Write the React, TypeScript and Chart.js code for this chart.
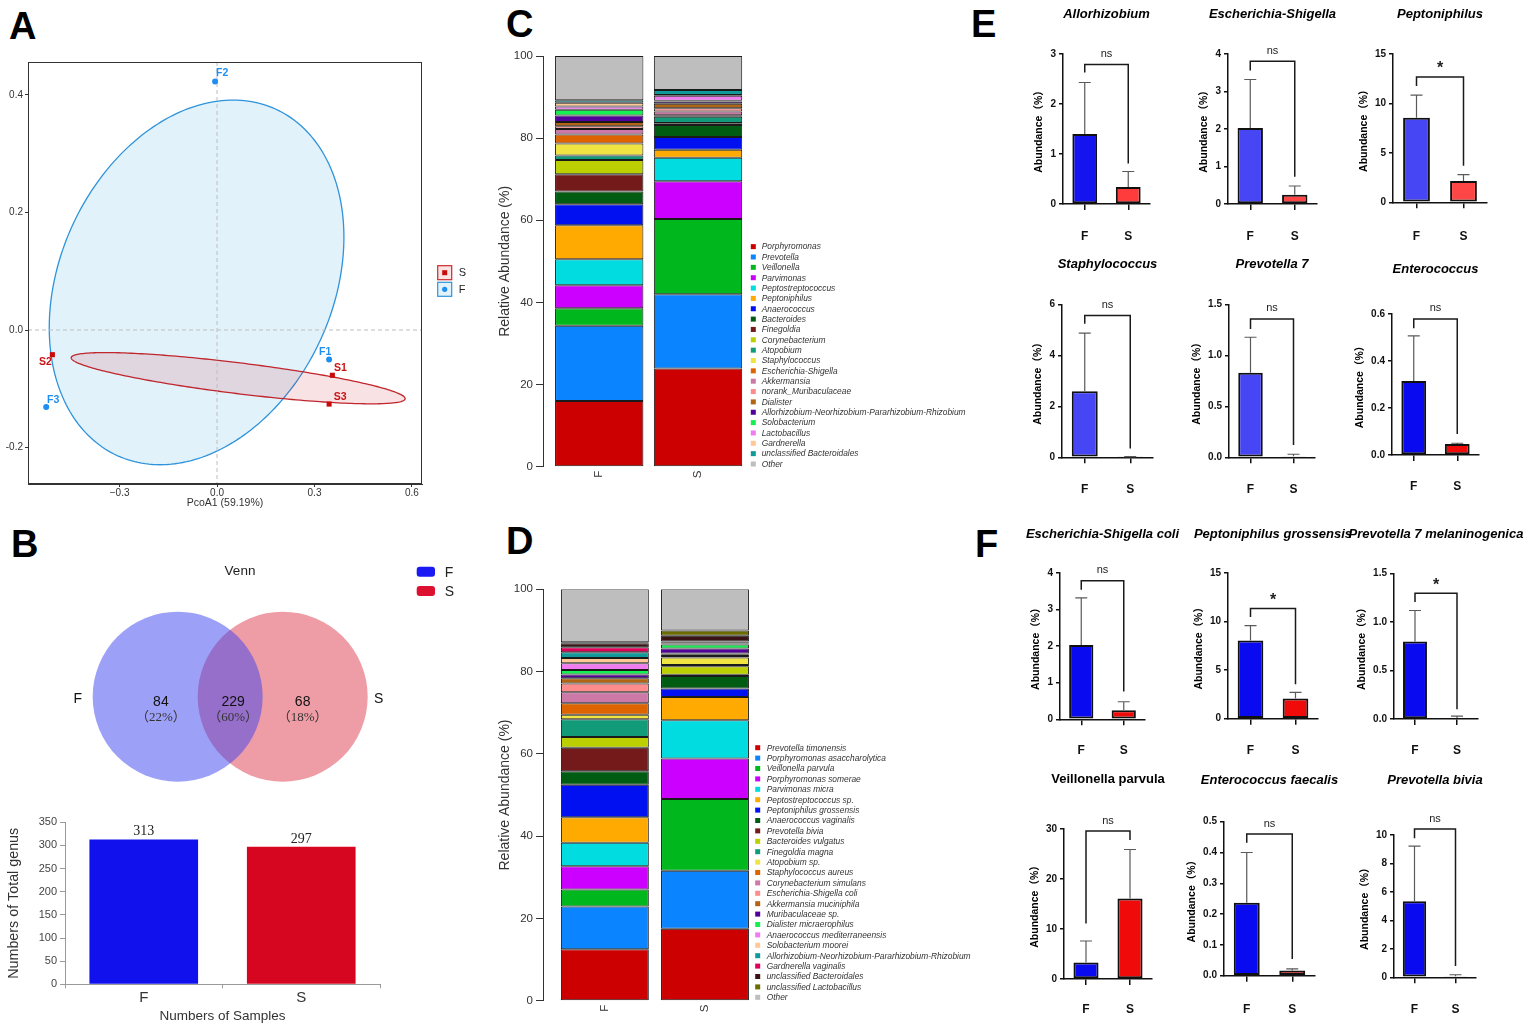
import React, { useEffect, useRef } from 'react';
import { Chart, registerables } from 'chart.js';

Chart.register(...registerables);

const SANS = "'Liberation Sans', Arial, 'Noto Sans CJK SC', sans-serif";
const SERIF = "'Liberation Serif', 'Times New Roman', 'Noto Sans CJK SC', serif";

// ================= Panel A : PCoA =================
const pcoaFNames = ['F1', 'F2', 'F3'];
const pcoaFX = [0.345, -0.006, -0.526];
const pcoaFY = [-0.05, 0.423, -0.131];
const pcoaSNames = ['S1', 'S2', 'S3'];
const pcoaSX = [0.355, -0.507, 0.345];
const pcoaSY = [-0.077, -0.042, -0.126];
const pcoaXTicks = [-0.3, 0, 0.3, 0.6];
const pcoaYTicks = [-0.2, 0, 0.2, 0.4];
const pcoaXRange = [-0.582, 0.631];
const pcoaYRange = [-0.262, 0.456];
// confidence ellipses: centre and two semi-axis vectors (data units)
const ellipseFCenter = [-0.063, 0.081];
const ellipseFAxisA = [0.243, 0.295];
const ellipseFAxisB = [0.383, -0.096];
const ellipseSCenter = [0.065, -0.082];
const ellipseSAxisA = [0.514, -0.035];
const ellipseSAxisB = [-0.006, -0.026];

// label placement (style)
const pcoaFLabelDx = [-4, 7, 7];
const pcoaFLabelDy = [-7, -8, -7];
const pcoaSLabelDx = [8, -7, 11];
const pcoaSLabelDy = [-7, 7, -7];

// ================= Panel B : Venn + totals =================
const vennSets = ['F', 'S'];
const vennOnly = [84, 68];
const vennShared = 229;
const totalGenus = [313, 297];

// ================= Panel C : genus composition =================
const groups = ['F', 'S'];
const genusNames = [
  'Porphyromonas', 'Prevotella', 'Veillonella', 'Parvimonas', 'Peptostreptococcus', 'Peptoniphilus',
  'Anaerococcus', 'Bacteroides', 'Finegoldia', 'Corynebacterium', 'Atopobium', 'Staphylococcus',
  'Escherichia-Shigella', 'Akkermansia', 'norank_Muribaculaceae', 'Dialister',
  'Allorhizobium-Neorhizobium-Pararhizobium-Rhizobium', 'Solobacterium', 'Lactobacillus', 'Gardnerella',
  'unclassified Bacteroidales', 'Other',
];
const genusF = [16.0, 18.3, 4.3, 5.6, 6.3, 8.3, 5.1, 3.1, 4.2, 3.5, 1.1, 2.9, 2.2, 1.3, 0.7, 1.05, 1.55, 1.4, 0.8, 0.9, 0.65, 10.75];
const genusS = [23.9, 18.1, 18.3, 9.2, 5.7, 2.0, 3.1, 2.9, 0.4, 0.1, 1.5, 0.2, 0.2, 0.9, 0.8, 1.1, 0.5, 0.2, 1.2, 0.2, 1.2, 8.3];
const genusColors = [
  '#CC0000', '#0A84FF', '#00B81E', '#CC00FF', '#00DCE0', '#FFAA00', '#0010F0', '#005C12', '#741A1A',
  '#BCCF00', '#129B78', '#F0E442', '#DD6400', '#CC79A7', '#FF8C8C', '#B06414', '#520099', '#14F050',
  '#F07CF0', '#FFC896', '#12999A', '#BEBEBE',
];

// ================= Panel D : species composition =================
const speciesNames = [
  'Prevotella timonensis', 'Porphyromonas asaccharolytica', 'Veillonella parvula', 'Porphyromonas somerae',
  'Parvimonas micra', 'Peptostreptococcus sp.', 'Peptoniphilus grossensis', 'Anaerococcus vaginalis',
  'Prevotella bivia', 'Bacteroides vulgatus', 'Finegoldia magna', 'Atopobium sp.', 'Staphylococcus aureus',
  'Corynebacterium simulans', 'Escherichia-Shigella coli', 'Akkermansia muciniphila', 'Muribaculaceae sp.',
  'Dialister micraerophilus', 'Anaerococcus mediterraneensis', 'Solobacterium moorei',
  'Allorhizobium-Neorhizobium-Pararhizobium-Rhizobium', 'Gardnerella vaginalis', 'unclassified Bacteroidales',
  'unclassified Lactobacillus', 'Other',
];
const speciesF = [12.5, 10.4, 4.1, 5.7, 5.7, 6.2, 7.9, 3.3, 5.7, 2.6, 4.3, 1.1, 2.8, 2.7, 2.1, 1.3, 0.9, 1.1, 1.6, 1.3, 1.4, 1.2, 1.0, 0.2, 12.9];
const speciesS = [17.5, 14.1, 17.4, 9.9, 9.3, 5.6, 2.1, 3.0, 0.3, 2.1, 0.3, 1.8, 0.4, 0.2, 0.1, 0.3, 1.2, 1.0, 0.2, 0.2, 0.2, 0.1, 1.4, 1.3, 10.0];
const speciesColors = [
  '#CC0000', '#0A84FF', '#00B81E', '#CC00FF', '#00DCE0', '#FFAA00', '#0010F0', '#005C12', '#741A1A',
  '#BCCF00', '#129B78', '#F0E442', '#DD6400', '#CC79A7', '#FF8C8C', '#B06414', '#520099', '#14F050',
  '#F07CF0', '#FFC896', '#12999A', '#E0005A', '#3A1414', '#6B6B00', '#BEBEBE',
];

// ================= Panels E / F : group comparisons =================
const miniTitles = [
  'Allorhizobium', 'Escherichia-Shigella', 'Peptoniphilus', 'Staphylococcus', 'Prevotella 7', 'Enterococcus',
  'Escherichia-Shigella coli', 'Peptoniphilus grossensis', 'Prevotella 7 melaninogenica', 'Veillonella parvula',
  'Enterococcus faecalis', 'Prevotella bivia',
];
const miniMeanF = [1.4, 2.03, 8.55, 2.6, 0.83, 0.315, 2.03, 8.05, 0.8, 3.3, 0.237, 5.35];
const miniMeanS = [0.34, 0.25, 2.15, 0.02, 0.01, 0.047, 0.25, 2.08, 0.01, 16.1, 0.017, 0.08];
const miniSdF = [1.03, 1.29, 2.3, 2.28, 0.35, 0.192, 1.29, 1.53, 0.32, 4.3, 0.163, 3.87];
const miniSdS = [0.31, 0.23, 0.65, 0.01, 0.02, 0.003, 0.23, 0.62, 0.02, 9.8, 0.005, 0.1];
const miniYMax = [3, 4, 15, 6, 1.5, 0.6, 4, 15, 1.5, 30, 0.5, 10];
const miniYStep = [1, 1, 5, 2, 0.5, 0.2, 1, 5, 0.5, 10, 0.1, 2];
const miniBracket = [2.79, 3.81, 12.67, 5.58, 1.36, 0.579, 3.79, 11.35, 1.297, 29.6, 0.46, 10.42];
const miniLegF = [2.63, 3.56, 11.76, 5.25, 1.26, 0.539, 3.54, 10.46, 1.207, 11.1, 0.432, 9.77];
const miniLegS = [0.81, 0.73, 3.7, 0.35, 0.12, 0.089, 0.76, 3.54, 0.1, 27.8, 0.054, 0.8];
const miniSig = ['ns', 'ns', '*', 'ns', 'ns', 'ns', 'ns', '*', '*', 'ns', 'ns', 'ns'];

// styles for mini charts
const miniItalic = [true, true, true, true, true, true, true, true, true, false, true, true];
const miniColorF = ['#1414F0', '#4646F5', '#4646F5', '#4646F5', '#4646F5', '#0A0AF0', '#0A0AF0', '#0A0AF0', '#0A0AF0', '#0A0AF0', '#0A0AF0', '#0A0AF0'];
const miniColorS = ['#FF3C3C', '#FF4646', '#FF4646', '#FF4646', '#FF4646', '#F00A0A', '#F00A0A', '#F00A0A', '#F00A0A', '#F00A0A', '#F00A0A', '#F00A0A'];
const miniLayout = [
  { axisX: 1062.7, right: 1150, top: 54, bottom: 204, titleY: 14, labelY: 237 },
  { axisX: 1227.7, right: 1316.7, top: 54, bottom: 204, titleY: 14, labelY: 237 },
  { axisX: 1393.3, right: 1487.7, top: 54, bottom: 202.3, titleY: 14, labelY: 237 },
  { axisX: 1061.7, right: 1152.3, top: 305, bottom: 457.3, titleY: 264.3, labelY: 490 },
  { axisX: 1229, right: 1315, top: 305, bottom: 457.3, titleY: 264.3, labelY: 490 },
  { axisX: 1391.7, right: 1479, top: 314, bottom: 455, titleY: 269, labelY: 487 },
  { axisX: 1060, right: 1145, top: 573.3, bottom: 719.3, titleY: 534.3, labelY: 751 },
  { axisX: 1227.7, right: 1317.7, top: 573.3, bottom: 718.7, titleY: 534.3, labelY: 751 },
  { axisX: 1394.3, right: 1478.3, top: 574, bottom: 719, titleY: 534.3, labelY: 751 },
  { axisX: 1064.3, right: 1152.7, top: 829, bottom: 979, titleY: 779, labelY: 1010 },
  { axisX: 1224.3, right: 1315, top: 821.7, bottom: 975.7, titleY: 780, labelY: 1010 },
  { axisX: 1394.3, right: 1476.7, top: 835, bottom: 977.3, titleY: 780, labelY: 1010 },
];

// ================= plugins =================
const pcoaPlugin = {
  id: 'pcoaDecor',
  beforeDatasetsDraw(chart: any) {
    const { ctx, chartArea: ca, scales } = chart;
    const xs = scales.x;
    const ys = scales.y;
    ctx.save();
    ctx.beginPath();
    ctx.rect(ca.left, ca.top, ca.right - ca.left, ca.bottom - ca.top);
    ctx.clip();
    const ell = (c: number[], a: number[], b: number[], fill: string, stroke: string) => {
      ctx.beginPath();
      for (let k = 0; k <= 240; k++) {
        const t = (k / 240) * Math.PI * 2;
        const px = xs.getPixelForValue(c[0] + Math.cos(t) * a[0] + Math.sin(t) * b[0]);
        const py = ys.getPixelForValue(c[1] + Math.cos(t) * a[1] + Math.sin(t) * b[1]);
        if (k === 0) ctx.moveTo(px, py);
        else ctx.lineTo(px, py);
      }
      ctx.closePath();
      ctx.fillStyle = fill;
      ctx.fill();
      ctx.strokeStyle = stroke;
      ctx.lineWidth = 1.3;
      ctx.stroke();
    };
    ell(ellipseFCenter, ellipseFAxisA, ellipseFAxisB, 'rgba(135,200,240,0.24)', '#2E93DB');
    ell(ellipseSCenter, ellipseSAxisA, ellipseSAxisB, 'rgba(205,30,45,0.13)', '#C0262C');
    ctx.setLineDash([4, 3]);
    ctx.lineWidth = 1;
    ctx.strokeStyle = '#BDBDBD';
    const x0 = xs.getPixelForValue(0);
    const y0 = ys.getPixelForValue(0);
    ctx.beginPath();
    ctx.moveTo(x0, ca.top);
    ctx.lineTo(x0, ca.bottom);
    ctx.moveTo(ca.left, y0);
    ctx.lineTo(ca.right, y0);
    ctx.stroke();
    ctx.restore();
  },
  afterDatasetsDraw(chart: any) {
    const { ctx } = chart;
    ctx.save();
    ctx.font = `bold 10.5px ${SANS}`;
    ctx.textAlign = 'center';
    ctx.textBaseline = 'middle';
    const sets = [
      { meta: chart.getDatasetMeta(0), names: pcoaFNames, dx: pcoaFLabelDx, dy: pcoaFLabelDy, color: '#1E8FF0' },
      { meta: chart.getDatasetMeta(1), names: pcoaSNames, dx: pcoaSLabelDx, dy: pcoaSLabelDy, color: '#C81414' },
    ];
    sets.forEach((s) => {
      ctx.fillStyle = s.color;
      s.meta.data.forEach((pt: any, i: number) => {
        ctx.fillText(s.names[i], pt.x + s.dx[i], pt.y + s.dy[i]);
      });
    });
    ctx.restore();
  },
  afterDraw(chart: any) {
    const { ctx, chartArea: ca } = chart;
    ctx.save();
    ctx.strokeStyle = '#333';
    ctx.lineWidth = 1;
    ctx.strokeRect(ca.left + 0.5, ca.top + 0.5, ca.right - ca.left - 1, ca.bottom - ca.top - 1);
    // legend
    const mid = (ca.top + ca.bottom) / 2;
    const bx = ca.right + 15.7;
    const rows = [
      { ds: chart.data.datasets[1], y: mid - 7.3, fill: '#FBE2E3', stroke: '#CC2A2A', square: true },
      { ds: chart.data.datasets[0], y: mid + 9.3, fill: '#E2F2FB', stroke: '#2E93DB', square: false },
    ];
    rows.forEach((r) => {
      ctx.fillStyle = r.fill;
      ctx.fillRect(bx, r.y, 14, 14);
      ctx.strokeStyle = r.stroke;
      ctx.lineWidth = 1.2;
      ctx.strokeRect(bx, r.y, 14, 14);
      ctx.fillStyle = r.ds.backgroundColor;
      if (r.square) ctx.fillRect(bx + 4.5, r.y + 4.5, 5, 5);
      else {
        ctx.beginPath();
        ctx.arc(bx + 7, r.y + 7, 2.6, 0, Math.PI * 2);
        ctx.fill();
      }
      ctx.fillStyle = '#222';
      ctx.font = `11px ${SANS}`;
      ctx.textAlign = 'left';
      ctx.textBaseline = 'middle';
      ctx.fillText(r.ds.label, bx + 21, r.y + 7.5);
    });
    ctx.restore();
  },
};

const vennPlugin = {
  id: 'vennDecor',
  afterDatasetsDraw(chart: any) {
    const { ctx } = chart;
    const p0 = chart.getDatasetMeta(0).data[0];
    const p1 = chart.getDatasetMeta(1).data[0];
    const r = chart.data.datasets[0].pointRadius;
    const xF = p0.x;
    const xS = p1.x;
    const yc = p0.y;
    const d = xS - xF;
    const total = vennOnly[0] + vennShared + vennOnly[1];
    const items = [
      { x: xF - 0.16 * d, v: vennOnly[0] },
      { x: (xF + xS) / 2 + 3, v: vennShared },
      { x: xS + 0.19 * d, v: vennOnly[1] },
    ];
    ctx.save();
    ctx.textAlign = 'center';
    ctx.textBaseline = 'middle';
    items.forEach((it) => {
      ctx.fillStyle = '#111';
      ctx.font = `14px ${SANS}`;
      ctx.fillText(String(it.v), it.x, yc + 5);
      ctx.fillStyle = '#333';
      ctx.font = `13px ${SERIF}`;
      ctx.fillText(`（${Math.round((it.v / total) * 100)}%）`, it.x, yc + 20.6);
    });
    ctx.fillStyle = '#111';
    ctx.font = `14px ${SANS}`;
    ctx.fillText(vennSets[0], xF - r - 15, yc + 2.5);
    ctx.fillText(vennSets[1], xS + r + 11, yc + 2.5);
    ctx.font = `13.5px ${SANS}`;
    ctx.fillStyle = '#222';
    ctx.fillText('Venn', chart.width / 2, 16.7);
    // legend
    const lx = chart.width - 63.3;
    const legendColors = ['#1A1AF5', '#DD1030'];
    vennSets.forEach((name, i) => {
      const ly = 11.7 + i * 19.3;
      ctx.fillStyle = legendColors[i];
      ctx.beginPath();
      if (ctx.roundRect) ctx.roundRect(lx, ly, 18.3, 10, 3);
      else ctx.rect(lx, ly, 18.3, 10);
      ctx.fill();
      ctx.fillStyle = '#222';
      ctx.font = `14px ${SANS}`;
      ctx.textAlign = 'left';
      ctx.fillText(name, lx + 28, ly + 6);
    });
    ctx.restore();
  },
};

const barValuePlugin = {
  id: 'barValues',
  afterDatasetsDraw(chart: any) {
    const { ctx } = chart;
    const meta = chart.getDatasetMeta(0);
    ctx.save();
    ctx.font = `14px ${SERIF}`;
    ctx.fillStyle = '#222';
    ctx.textAlign = 'center';
    ctx.textBaseline = 'bottom';
    meta.data.forEach((bar: any, i: number) => {
      ctx.fillText(String(chart.data.datasets[0].data[i]), bar.x, bar.y - 1);
    });
    ctx.restore();
  },
};

const stackLegendPlugin = {
  id: 'stackLegend',
  afterDraw(chart: any, _args: any, opts: any) {
    const { ctx, chartArea: ca } = chart;
    const ds = chart.data.datasets;
    const n = ds.length;
    ctx.save();
    ctx.font = `italic 8.4px ${SANS}`;
    ctx.textBaseline = 'middle';
    ctx.textAlign = 'left';
    ds.forEach((d: any, i: number) => {
      const yy = ca.bottom - opts.bottomGap - (n - 1 - i) * opts.spacing;
      ctx.fillStyle = d.backgroundColor;
      ctx.fillRect(ca.right + opts.boxX - 2.5, yy - 2.5, 5, 5);
      ctx.fillStyle = '#333';
      ctx.fillText(d.label, ca.right + opts.textX, yy + 0.5);
    });
    ctx.restore();
  },
};

const miniPlugin = {
  id: 'miniDecor',
  afterDatasetsDraw(chart: any, _args: any, opts: any) {
    const i = opts.index;
    const { ctx, chartArea: ca, scales } = chart;
    const y = scales.y;
    const meta = chart.getDatasetMeta(0);
    const means = [miniMeanF[i], miniMeanS[i]];
    const sds = [miniSdF[i], miniSdS[i]];
    ctx.save();
    // error bars (upper)
    ctx.strokeStyle = '#5A5A5A';
    ctx.lineWidth = 1.2;
    meta.data.forEach((bar: any, j: number) => {
      const yTop = y.getPixelForValue(means[j] + sds[j]);
      const yBase = y.getPixelForValue(means[j]);
      ctx.beginPath();
      ctx.moveTo(bar.x, yBase);
      ctx.lineTo(bar.x, yTop);
      ctx.moveTo(bar.x - 6, yTop);
      ctx.lineTo(bar.x + 6, yTop);
      ctx.stroke();
    });
    // significance bracket
    const xF = meta.data[0].x;
    const xS = meta.data[1].x;
    const yb = y.getPixelForValue(miniBracket[i]);
    ctx.strokeStyle = '#1A1A1A';
    ctx.lineWidth = 1.5;
    ctx.beginPath();
    ctx.moveTo(xF, y.getPixelForValue(miniLegF[i]));
    ctx.lineTo(xF, yb);
    ctx.lineTo(xS, yb);
    ctx.lineTo(xS, y.getPixelForValue(miniLegS[i]));
    ctx.stroke();
    ctx.fillStyle = '#222';
    ctx.textAlign = 'center';
    ctx.textBaseline = 'middle';
    if (miniSig[i] === '*') {
      ctx.font = `bold 16px ${SANS}`;
      ctx.fillText('*', (xF + xS) / 2, yb - 8);
    } else {
      ctx.font = `11px ${SANS}`;
      ctx.fillText(miniSig[i], (xF + xS) / 2, yb - 10.5);
    }
    // title
    ctx.fillStyle = '#000';
    ctx.font = `${miniItalic[i] ? 'italic ' : ''}bold 13px ${SANS}`;
    ctx.fillText(miniTitles[i], (ca.left + ca.right) / 2, opts.titleY);
    // y-axis title
    ctx.font = `bold 10px ${SANS}`;
    let maxW = 0;
    y.ticks.forEach((t: any) => {
      maxW = Math.max(maxW, ctx.measureText(String(t.label)).width);
    });
    const tx = ca.left - 4 - 3 - maxW - 6 - 5.25;
    ctx.translate(tx, (ca.top + ca.bottom) / 2);
    ctx.rotate(-Math.PI / 2);
    ctx.font = `bold 10.5px ${SANS}`;
    ctx.fillText('Abundance（%）', 0, 0);
    ctx.restore();
  },
};

// ================= configs =================
const baseOpts = {
  animation: false,
  responsive: false,
  events: [],
};

function pcoaConfig() {
  return {
    type: 'scatter',
    data: {
      datasets: [
        {
          label: 'F',
          data: pcoaFX.map((v, i) => ({ x: v, y: pcoaFY[i] })),
          pointStyle: 'circle',
          pointRadius: 3,
          backgroundColor: '#1E8FF0',
          borderColor: '#1E8FF0',
          borderWidth: 0,
        },
        {
          label: 'S',
          data: pcoaSX.map((v, i) => ({ x: v, y: pcoaSY[i] })),
          pointStyle: 'rect',
          pointRadius: 3.6,
          backgroundColor: '#C80A0A',
          borderColor: '#C80A0A',
          borderWidth: 0,
        },
      ],
    },
    options: {
      ...baseOpts,
      layout: { autoPadding: false, padding: { top: 12, right: 58, left: 0, bottom: 0 } },
      plugins: { legend: { display: false }, tooltip: { enabled: false } },
      scales: {
        x: {
          type: 'linear',
          min: pcoaXRange[0],
          max: pcoaXRange[1],
          afterBuildTicks: (s: any) => {
            s.ticks = pcoaXTicks.map((value) => ({ value }));
          },
          ticks: {
            autoSkip: false,
            callback: (v: any) => (v < 0 ? '−' + Math.abs(v).toFixed(1) : Number(v).toFixed(1)),
            font: { family: SANS, size: 10 },
            color: '#333',
            padding: 0,
          },
          grid: { display: true, drawOnChartArea: false, tickLength: 3, color: '#333' },
          border: { display: true, color: '#333' },
          title: {
            display: true,
            text: 'PcoA1 (59.19%)',
            font: { family: SANS, size: 10.5 },
            color: '#333',
            padding: { top: 0, bottom: 10.5 },
          },
          afterFit: (s: any) => {
            s.height = 36;
          },
        },
        y: {
          type: 'linear',
          min: pcoaYRange[0],
          max: pcoaYRange[1],
          afterBuildTicks: (s: any) => {
            s.ticks = pcoaYTicks.map((value) => ({ value }));
          },
          ticks: {
            autoSkip: false,
            callback: (v: any) => Number(v).toFixed(1),
            font: { family: SANS, size: 10 },
            color: '#333',
            padding: 2,
          },
          grid: { display: true, drawOnChartArea: false, tickLength: 3, color: '#333' },
          border: { display: true, color: '#333' },
          afterFit: (s: any) => {
            s.width = 28;
          },
        },
      },
    },
    plugins: [pcoaPlugin],
  };
}

function vennConfig() {
  const fills = ['rgba(59,65,239,0.5)', 'rgba(211,0,24,0.39)'];
  return {
    type: 'scatter',
    data: {
      datasets: vennSets.map((name, i) => ({
        label: name,
        data: [{ x: i, y: 0 }],
        pointRadius: 85,
        pointHoverRadius: 85,
        backgroundColor: fills[i],
        borderWidth: 0,
        clip: false,
      })),
    },
    options: {
      ...baseOpts,
      layout: { autoPadding: false, padding: 0 },
      plugins: { legend: { display: false }, tooltip: { enabled: false } },
      scales: {
        x: { type: 'linear', display: false, min: -1.692, max: 2.879 },
        y: { type: 'linear', display: false, min: -1.033, max: 1.417 },
      },
    },
    plugins: [vennPlugin],
  };
}

function genusTotalConfig() {
  return {
    type: 'bar',
    data: {
      labels: vennSets,
      datasets: [
        {
          data: totalGenus,
          backgroundColor: ['#1111EE', '#D60520'],
          borderWidth: 0,
          barPercentage: 0.69,
          categoryPercentage: 1,
        },
      ],
    },
    options: {
      ...baseOpts,
      layout: { autoPadding: false, padding: { top: 22.3, right: 100, left: 0, bottom: 0 } },
      plugins: { legend: { display: false }, tooltip: { enabled: false } },
      scales: {
        x: {
          grid: { display: true, drawOnChartArea: false, tickLength: 4, color: '#9A9A9A' },
          border: { display: true, color: '#9A9A9A' },
          ticks: { font: { family: SANS, size: 15 }, color: '#333', padding: 1 },
          title: {
            display: true,
            text: 'Numbers of Samples',
            font: { family: SANS, size: 13.5 },
            color: '#333',
            padding: { top: 0, bottom: 6.2 },
          },
          afterFit: (s: any) => {
            s.height = 46.7;
          },
        },
        y: {
          min: 0,
          max: 350,
          ticks: { stepSize: 50, font: { family: SANS, size: 11 }, color: '#444', padding: 3 },
          grid: { display: true, drawOnChartArea: false, tickLength: 5, color: '#9A9A9A' },
          border: { display: true, color: '#9A9A9A' },
          title: {
            display: true,
            text: 'Numbers of Total genus',
            font: { family: SANS, size: 14.3 },
            color: '#333',
            padding: { top: 5.4, bottom: 0 },
          },
          afterFit: (s: any) => {
            s.width = 65;
          },
        },
      },
    },
    plugins: [barValuePlugin],
  };
}

function stackConfig(
  names: string[],
  fVals: number[],
  sVals: number[],
  colors: string[],
  xRange: number[],
  barPct: number,
  padTop: number,
  padRight: number,
  xHeight: number,
  legend: any,
) {
  return {
    type: 'bar',
    data: {
      datasets: names.map((name, k) => ({
        label: name,
        data: [
          { x: 1, y: fVals[k] },
          { x: 2, y: sVals[k] },
        ],
        backgroundColor: colors[k],
        borderColor: '#1A1A1A',
        borderWidth: 1,
        borderSkipped: false,
        barPercentage: barPct,
        categoryPercentage: 1,
      })),
    },
    options: {
      ...baseOpts,
      layout: { autoPadding: false, padding: { top: padTop, right: padRight, left: 0, bottom: 0 } },
      plugins: { legend: { display: false }, tooltip: { enabled: false }, stackLegend: legend },
      scales: {
        x: {
          type: 'linear',
          stacked: true,
          offset: false,
          min: xRange[0],
          max: xRange[1],
          afterBuildTicks: (s: any) => {
            s.ticks = groups.map((_g, i) => ({ value: i + 1 }));
          },
          ticks: {
            autoSkip: false,
            minRotation: 90,
            maxRotation: 90,
            callback: (v: any) => groups[Math.round(v) - 1] ?? '',
            font: { family: SANS, size: 11.5 },
            color: '#333',
            padding: 4,
          },
          grid: { display: false, drawTicks: false, offset: false },
          border: { display: false },
          afterFit: (s: any) => {
            s.height = xHeight;
          },
        },
        y: {
          stacked: true,
          min: 0,
          max: 100,
          ticks: { stepSize: 20, font: { family: SANS, size: 11.5 }, color: '#333', padding: 3 },
          grid: { display: true, drawOnChartArea: false, tickLength: 7, color: '#333' },
          border: { display: true, color: '#333' },
          title: {
            display: true,
            text: 'Relative Abundance (%)',
            font: { family: SANS, size: 14 },
            color: '#333',
            padding: { top: 6.6, bottom: 0 },
          },
          afterFit: (s: any) => {
            s.width = 53;
          },
        },
      },
    },
    plugins: [stackLegendPlugin],
  };
}

function miniBox(i: number) {
  const L = miniLayout[i];
  const left = L.axisX - 70;
  const top = L.titleY - 12;
  const right = L.right + 50;
  const bottom = L.labelY + 12;
  return { left, top, width: right - left, height: bottom - top };
}

function miniConfig(i: number) {
  const L = miniLayout[i];
  const b = miniBox(i);
  const cBottom = b.top + b.height;
  const dec = miniYStep[i] < 1 ? 1 : 0;
  return {
    type: 'bar',
    data: {
      labels: groups,
      datasets: [
        {
          data: [miniMeanF[i], miniMeanS[i]],
          backgroundColor: [miniColorF[i], miniColorS[i]],
          borderColor: '#111',
          borderWidth: 2,
          borderSkipped: false,
          barPercentage: 0.57,
          categoryPercentage: 1,
        },
      ],
    },
    options: {
      ...baseOpts,
      layout: { autoPadding: false, padding: { top: L.top - b.top, right: 50, left: 0, bottom: 0 } },
      plugins: {
        legend: { display: false },
        tooltip: { enabled: false },
        miniDecor: { index: i, titleY: L.titleY - b.top },
      },
      scales: {
        x: {
          grid: { display: true, drawOnChartArea: false, offset: false, tickLength: 6, color: '#111', lineWidth: 1.5 },
          border: { display: true, color: '#111', width: 1.5 },
          ticks: {
            color: '#111',
            font: { family: SANS, size: 12, weight: 'bold' },
            padding: L.labelY - L.bottom - 6 - 7.2,
          },
          afterFit: (s: any) => {
            s.height = cBottom - L.bottom;
          },
        },
        y: {
          min: 0,
          max: miniYMax[i],
          ticks: {
            stepSize: miniYStep[i],
            callback: (v: any) => Number(v).toFixed(dec),
            color: '#111',
            font: { family: SANS, size: 10, weight: 'bold' },
            padding: 3,
          },
          grid: { display: true, drawOnChartArea: false, tickLength: 4, color: '#111', lineWidth: 1.5 },
          border: { display: true, color: '#111', width: 1.5 },
          afterFit: (s: any) => {
            s.width = 70;
          },
        },
      },
    },
    plugins: [miniPlugin],
  };
}

// ================= components =================
function ChartCanvas({ box, make }: { box: { left: number; top: number; width: number; height: number }; make: () => any }) {
  const ref = useRef<HTMLCanvasElement | null>(null);
  useEffect(() => {
    if (!ref.current) return;
    const chart = new Chart(ref.current, make());
    return () => chart.destroy();
  }, []);
  return (
    <canvas
      ref={ref}
      width={Math.round(box.width)}
      height={Math.round(box.height)}
      style={{
        position: 'absolute',
        left: box.left,
        top: box.top,
        width: Math.round(box.width),
        height: Math.round(box.height),
      }}
    />
  );
}

const letterStyle = (left: number, top: number): React.CSSProperties => ({
  position: 'absolute',
  left,
  top,
  fontFamily: SANS,
  fontWeight: 'bold',
  fontSize: 38,
  lineHeight: '38px',
  color: '#000',
});

export default function App() {
  const cLegend = { boxX: 3.3, textX: 11.7, bottomGap: 2.7, spacing: 10.35 };
  const dLegend = { boxX: 5.7, textX: 14.7, bottomGap: 3.4, spacing: 10.4 };
  return (
    <div
      style={{
        position: 'absolute',
        left: 0,
        top: 0,
        width: 1535,
        height: 1031,
        background: '#fff',
        overflow: 'hidden',
      }}
    >
      <div style={letterStyle(9, 7)}>A</div>
      <div style={letterStyle(11, 525)}>B</div>
      <div style={letterStyle(506, 5)}>C</div>
      <div style={letterStyle(506, 522)}>D</div>
      <div style={letterStyle(971, 5)}>E</div>
      <div style={letterStyle(975, 525)}>F</div>

      <ChartCanvas box={{ left: 0, top: 50, width: 480, height: 470 }} make={pcoaConfig} />
      <ChartCanvas box={{ left: 0, top: 555, width: 480, height: 245 }} make={vennConfig} />
      <ChartCanvas box={{ left: 0, top: 800, width: 480, height: 231 }} make={genusTotalConfig} />
      <ChartCanvas
        box={{ left: 490, top: 40, width: 490, height: 445 }}
        make={() =>
          stackConfig(genusNames, genusF, genusS, genusColors, [0.431, 2.526], 0.894, 16, 230, 18.3, cLegend)
        }
      />
      <ChartCanvas
        box={{ left: 490, top: 575, width: 490, height: 446 }}
        make={() =>
          stackConfig(speciesNames, speciesF, speciesS, speciesColors, [0.382, 2.4695], 0.878, 14.3, 228, 20.3, dLegend)
        }
      />
      {miniTitles.map((_t, i) => (
        <ChartCanvas key={i} box={miniBox(i)} make={() => miniConfig(i)} />
      ))}
    </div>
  );
}
